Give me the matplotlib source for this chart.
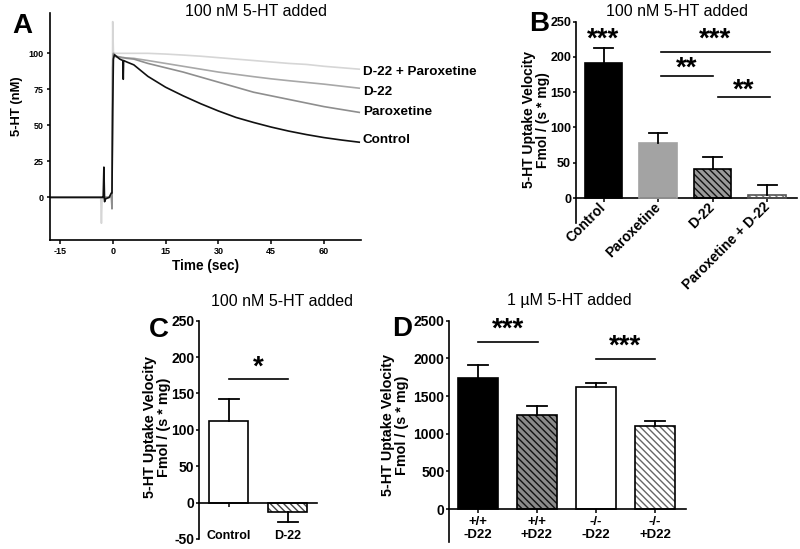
"""Four-panel 5-HT uptake figure (trace + bar graphs)."""
import matplotlib.pyplot as plt

plt.rcParams.update({
    'font.family': ['Liberation Sans', 'DejaVu Sans'],
    'font.size': 8,
    'axes.linewidth': 1.2,
    'axes.unicode_minus': False,
    'hatch.linewidth': 1.0,
    'xtick.major.width': 1.1,
    'ytick.major.width': 1.1,
    'xtick.major.size': 3,
    'ytick.major.size': 2.5,
    'ytick.major.pad': 0.8,
})

# ============================================================
# Data
# ============================================================
# Panel A: chronoamperometry traces
t_sec = [-17.5, -3.4, -3.2, -3.0, -2.7, -2.5, -2.3, -2.0, -1.0, -0.4, -0.2,
         0.0, 0.2, 0.5, 1, 2, 2.9, 3.0, 3.1, 4, 6,
         10, 15, 20, 25, 30, 35, 40, 45, 50, 55, 60, 65, 70]
ctrl_trace = [0, 0, 0, 0, 0, 21, -3, -1, 0, 3, 3,
              60, 96, 99, 98, 96, 95, 82, 95, 94, 92,
              84, 76.5, 70.5, 65, 60, 55.5, 52, 48.8, 46, 43.6, 41.5, 39.8, 38.3]
parox_trace = [0, 0, 0, 0, 0, 0, -2, 0, 0, 1, -8,
               90, 100, 99, 98, 97.5, 97, 97, 97, 96.5, 96,
               93, 90, 87, 83.5, 80, 76.5, 73, 70.5, 68, 65.5, 63, 61, 59]
d22_trace = [0, 0, 0, 0, 0, 0, 0, 0, 0, 1, 2,
             95, 99, 98, 97.5, 97, 97, 97, 97, 96.8, 96.5,
             95, 93, 91, 89, 87, 85.4, 83.8, 82.3, 81, 79.8, 78.6, 77.2, 75.8]
d22_parox_trace = [0, 0, -18, 0, 0, 0, 0, 0, 0, 0, 0,
                   122, 101, 100, 100, 100, 100, 100, 100, 100, 100,
                   100, 99.5, 98.8, 98, 97, 96, 95, 94, 93, 92.3, 91, 90, 89]
trace_names = ['D-22 + Paroxetine', 'D-22', 'Paroxetine', 'Control']
trace_label_y = [87, 73, 59, 40]

# Panel B
cats_b = ['Control', 'Paroxetine', 'D-22', 'Paroxetine + D-22']
vals_b = [192, 78, 41, 4]
err_b = [21, 14, 17, 15]

# Panel C
cats_c = ['Control', 'D-22']
vals_c = [112, -13]
err_c = [31, 14]

# Panel D
cats_d = ['+/+\n-D22', '+/+\n+D22', '-/-\n-D22', '-/-\n+D22']
vals_d = [1740, 1245, 1615, 1105]
err_d = [168, 122, 57, 66]

# significance brackets: (x1, x2, line y, label, label y)
sig_b = [(1.05, 3.05, 207, '***', 225), (1.05, 2.0, 173, '**', 183),
         (2.1, 3.05, 143, '**', 152)]
sig_c = [(0.0, 1.0, 170, '*', 185)]
sig_d = [(0.0, 1.02, 2215, '***', 2385), (2.0, 3.0, 1990, '***', 2150)]

# ============================================================
# Helpers
# ============================================================
HATCH = '\\' * 5
STAR_FS = 20


def bar_panel(ax, vals, errs, styles, width, fs):
    x = range(len(vals))
    for xi, v, e, st in zip(x, vals, errs, styles):
        ax.bar(xi, v, width, color=st['face'], edgecolor=st.get('hcol', st['face']),
               hatch=st.get('hatch'), linewidth=0, zorder=2)
        ax.bar(xi, v, width, fill=False, edgecolor=st['edge'], linewidth=1.2, zorder=3)
        end = v + e if v >= 0 else v - e
        ax.plot([xi, xi], [v, end], color='k', lw=1.3, zorder=3)
        ax.plot([xi - 0.17, xi + 0.17], [end, end], color='k', lw=1.3, zorder=3)
    ax.spines[['top', 'right']].set_visible(False)
    ax.spines['bottom'].set_position(('data', 0))
    ax.tick_params(axis='y', labelsize=fs)
    for lab in ax.get_yticklabels():
        lab.set_fontweight('bold')


def brackets(ax, sigs):
    for x1, x2, y, txt, ty in sigs:
        ax.plot([x1, x2], [y, y], color='k', lw=1.2)
        ax.text((x1 + x2) / 2, ty, txt, ha='center', va='center',
                fontsize=STAR_FS, fontweight='bold')


def fx(px):
    return px / 800


def fy(py):
    return 1 - py / 549


YLAB = '5-HT Uptake Velocity\nFmol / (s * mg)'
fig = plt.figure(figsize=(8, 5.49), dpi=100)

# ============================================================
# Panel A
# ============================================================
ax = fig.add_axes([fx(50), fy(240), fx(311), 227 / 549])
ax.plot(t_sec, d22_parox_trace, color='#d6d6d6', lw=1.2)
ax.plot(t_sec, d22_trace, color='#a8a8a8', lw=1.2)
ax.plot(t_sec, parox_trace, color='#8e8e8e', lw=1.2)
ax.plot(t_sec, ctrl_trace, color='#111111', lw=1.2)
ax.set_xlim(-17.8, 70.5)
ax.set_ylim(-29.6, 128)
ax.set_xticks([-15, 0, 15, 30, 45, 60])
ax.set_yticks([0, 25, 50, 75, 100])
ax.spines[['top', 'right']].set_visible(False)
ax.tick_params(labelsize=6.5)
ax.tick_params(axis='x', pad=2)
ax.tick_params(axis='y', pad=2)
for lab in ax.get_xticklabels() + ax.get_yticklabels():
    lab.set_fontweight('bold')
ax.set_xlabel('Time (sec)', fontsize=9.8, fontweight='bold', labelpad=2)
for name, ly in zip(trace_names, trace_label_y):
    ax.text(71, ly, name, fontsize=9.7, fontweight='bold', va='center',
            ha='left', clip_on=False)
fig.text(fx(17), fy(106), '5-HT (nM)', rotation=90, ha='center', va='center',
         fontsize=9.4, fontweight='bold')
fig.text(fx(256), fy(12), '100 nM 5-HT added', ha='center', va='center', fontsize=11.5)
fig.text(fx(22), fy(26), 'A', ha='center', va='center', fontsize=20, fontweight='bold')

# ============================================================
# Panel B
# ============================================================
ax = fig.add_axes([fx(575.7), fy(223), fx(221), 201.3 / 549])
styles_b = [dict(face='black', edge='black'),
            dict(face='#a3a3a3', edge='#a3a3a3'),
            dict(face='#9a9a9a', hcol='#111111', hatch=HATCH, edge='black'),
            dict(face='white', hcol='#777777', hatch=HATCH, edge='#555555')]
bar_panel(ax, vals_b, err_b, styles_b, 0.69, 9)
brackets(ax, sig_b)
ax.text(0, 225, '***', ha='center', va='center', fontsize=STAR_FS, fontweight='bold')
ax.set_xlim(-0.51, 3.54)
ax.set_ylim(-35.4, 250)
ax.set_yticks([0, 50, 100, 150, 200, 250])
ax.set_xticks(range(4))
ax.set_xticklabels(cats_b, rotation=45, ha='right', va='center', rotation_mode='anchor',
                   fontweight='bold', fontsize=10)
ax.tick_params(axis='x', pad=2)
fig.text(fx(536), fy(120), YLAB, rotation=90, ha='center', va='center',
         fontsize=10, fontweight='bold', linespacing=0.95)
fig.text(fx(677), fy(11), '100 nM 5-HT added', ha='center', va='center', fontsize=11.5)
fig.text(fx(539), fy(24), 'B', ha='center', va='center', fontsize=20, fontweight='bold')

# ============================================================
# Panel C
# ============================================================
ax = fig.add_axes([fx(199), fy(539), fx(117.7), 218.3 / 549])
styles_c = [dict(face='white', edge='black'),
            dict(face='white', hcol='#444444', hatch=HATCH, edge='black')]
bar_panel(ax, vals_c, err_c, styles_c, 0.667, 10)
brackets(ax, sig_c)
ax.set_xlim(-0.5, 1.49)
ax.set_ylim(-50, 250)
ax.set_yticks([-50, 0, 50, 100, 150, 200, 250])
ax.set_xticks(range(2))
ax.set_xticklabels(cats_c, fontweight='bold', fontsize=9)
ax.tick_params(axis='x', pad=17)
fig.text(fx(157), fy(427), YLAB, rotation=90, ha='center', va='center',
         fontsize=10.4, fontweight='bold', linespacing=0.95)
fig.text(fx(282), fy(301), '100 nM 5-HT added', ha='center', va='center', fontsize=11.5)
fig.text(fx(159), fy(330), 'C', ha='center', va='center', fontsize=20, fontweight='bold')

# ============================================================
# Panel D
# ============================================================
ax = fig.add_axes([fx(449), fy(541.7), fx(236.7), 221 / 549])
styles_d = [dict(face='black', edge='black'),
            dict(face='#8a8a8a', hcol='#111111', hatch=HATCH, edge='black'),
            dict(face='white', edge='black'),
            dict(face='white', hcol='#666666', hatch=HATCH, edge='black')]
bar_panel(ax, vals_d, err_d, styles_d, 0.677, 10)
brackets(ax, sig_d)
ax.set_xlim(-0.486, 3.52)
ax.set_ylim(-434, 2500)
ax.set_yticks([0, 500, 1000, 1500, 2000, 2500])
ax.set_xticks(range(4))
ax.set_xticklabels(cats_d, fontweight='bold', fontsize=9.5, linespacing=1.1)
ax.tick_params(axis='x', pad=2)
fig.text(fx(395), fy(425), YLAB, rotation=90, ha='center', va='center',
         fontsize=10.4, fontweight='bold', linespacing=0.95)
fig.text(fx(569), fy(301), '1 \u00b5M 5-HT added', ha='center', va='center', fontsize=11.5)
fig.text(fx(402), fy(329), 'D', ha='center', va='center', fontsize=20, fontweight='bold')

fig.savefig('out.png', dpi=100)
